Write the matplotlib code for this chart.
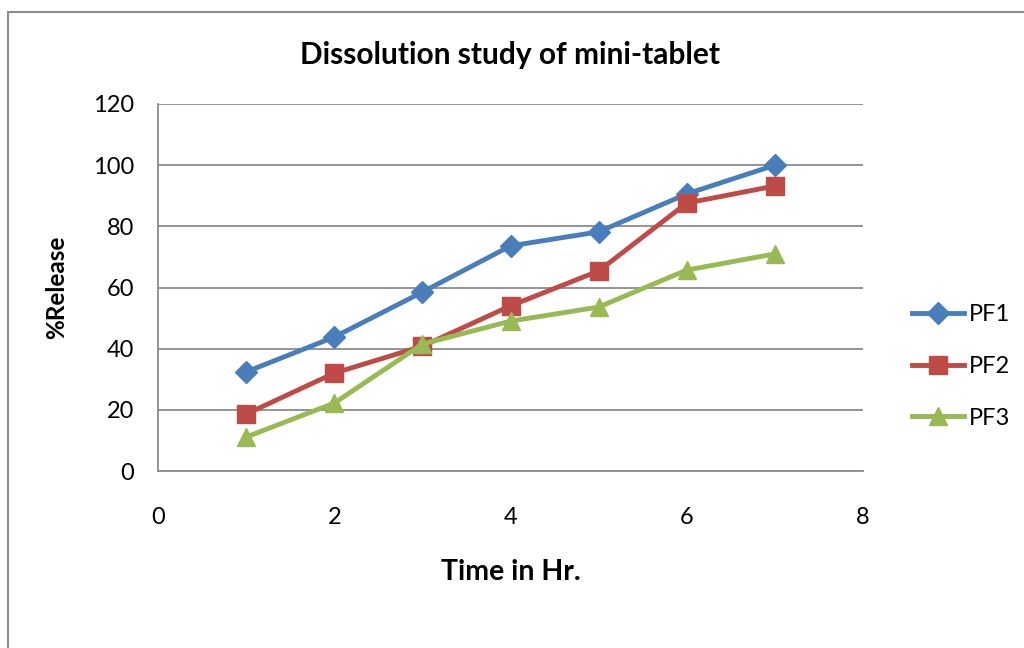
import matplotlib
matplotlib.use("Agg")
import matplotlib.pyplot as plt
from matplotlib.patches import Rectangle

plt.rcParams["font.family"] = ["Lato", "DejaVu Sans"]

# Data
time_hr = [1, 2, 3, 4, 5, 6, 7]
pf1 = [32.4, 43.8, 58.5, 73.6, 78.2, 90.6, 100.0]
pf2 = [18.6, 32.0, 40.8, 54.0, 65.4, 87.6, 93.2]
pf3 = [11.1, 22.2, 41.5, 49.0, 53.6, 65.7, 71.0]
series = [("PF1", pf1, "#4A7EBB", "D", 11),
          ("PF2", pf2, "#BE4B48", "s", 13),
          ("PF3", pf3, "#98B954", "^", 13)]

fig = plt.figure(figsize=(10.24, 6.48), dpi=100)
ax = fig.add_axes([158 / 1024, 1 - 471 / 648, 705 / 1024, 367 / 648])

# Outer chart frame
fig.patches.append(Rectangle((8 / 1024, -0.05), 1.05, 1 - 12 / 648 + 0.05,
                             transform=fig.transFigure, fill=False,
                             edgecolor="#8C8C8C", linewidth=1.5))

for name, vals, color, marker, ms in series:
    ax.plot(time_hr, vals, color=color, linewidth=3.5, marker=marker,
            markersize=ms, label=name)

ax.set_xlim(0, 8)
ax.set_ylim(0, 120)
ax.set_xticks(range(0, 9, 2))
ax.set_yticks(range(0, 121, 20))
ax.tick_params(length=0, labelsize=17)
ax.tick_params(axis="x", pad=26)
ax.tick_params(axis="y", pad=17)
ax.grid(axis="y", color="#8C8C8C", linewidth=1.3)
ax.set_axisbelow(True)
for side in ["top", "right"]:
    ax.spines[side].set_visible(False)
for side in ["left", "bottom"]:
    ax.spines[side].set_color("#8C8C8C")
    ax.spines[side].set_linewidth(1.3)

ax.set_title("Dissolution study of mini-tablet", fontsize=21.5,
             fontweight="bold", pad=29)
ax.set_xlabel("Time in Hr.", fontsize=20.5, fontweight="bold", labelpad=22)
ax.set_ylabel("%Release", fontsize=17.5, fontweight="bold", labelpad=18)

ax.legend(loc="center left", bbox_to_anchor=(1.04, 0.285), frameon=False,
          fontsize=17, handlelength=2.2, handletextpad=0.2, labelspacing=1.3)

fig.savefig("out.png", dpi=100)
